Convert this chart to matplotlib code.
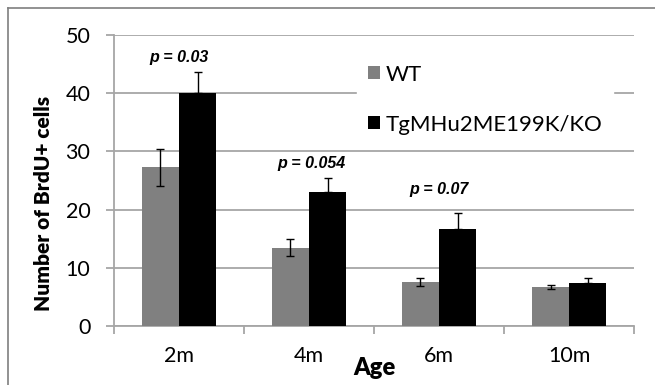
import matplotlib
matplotlib.use('Agg')
import matplotlib.pyplot as plt
from matplotlib.lines import Line2D
import numpy as np

# data
ages = ['2m', '4m', '6m', '10m']
wt_mean = [27.3, 13.5, 7.6, 6.7]
wt_err = [3.2, 1.5, 0.7, 0.4]
tg_mean = [40.0, 23.1, 16.6, 7.4]
tg_err = [3.6, 2.4, 2.9, 0.8]
p_labels = ['p = 0.03', 'p = 0.054', 'p = 0.07']
p_pos = [(0, 46.2), (1.02, 28.0), (2.0, 23.4)]

plt.rcParams['font.family'] = 'Lato'
axis_gray = '#a6a6a6'

fig = plt.figure(figsize=(6.55, 3.85), dpi=100)
ax = fig.add_axes([0.174, 0.153, 0.794, 0.756])

x = np.arange(len(ages))
w = 0.285
ax.bar(x - w / 2, wt_mean, w, color='#808080', label='WT', zorder=3)
ax.bar(x + w / 2, tg_mean, w, color='black', label='TgMHu2ME199K/KO', zorder=3)
ax.errorbar(x - w / 2, wt_mean, yerr=wt_err, fmt='none', ecolor='black',
            elinewidth=1, capsize=3, capthick=1, zorder=4)
ax.errorbar(x + w / 2, tg_mean, yerr=[[0] * 4, tg_err], fmt='none', ecolor='black',
            elinewidth=1, capsize=3, capthick=1, zorder=4)

for txt, (px, py) in zip(p_labels, p_pos):
    ax.text(px, py, txt, ha='center', va='center', fontsize=11.5,
            fontweight='bold', fontstyle='italic', family='Liberation Sans', zorder=5)

ax.set_xlim(-0.5, 3.5)
ax.set_ylim(0, 50)
ax.set_yticks(range(0, 51, 10))
ax.yaxis.grid(True, color=axis_gray, linewidth=1.3, zorder=0)
ax.set_xticks(x)
ax.set_xticklabels(ages, fontsize=15.5)
ax.set_xticks(np.arange(-0.5, 4, 1), minor=True)
ax.tick_params(axis='x', which='major', length=0, pad=14)
ax.tick_params(axis='x', which='minor', length=6, color=axis_gray, width=1.3)
ax.tick_params(axis='y', length=6, color=axis_gray, width=1.3, labelsize=15.5, pad=11)

for s in ['top', 'right']:
    ax.spines[s].set_visible(False)
for s in ['left', 'bottom']:
    ax.spines[s].set_color(axis_gray)
    ax.spines[s].set_linewidth(1.3)

ax.set_ylabel('Number of BrdU+ cells', fontsize=15, fontweight='heavy')
ax.yaxis.set_label_coords(-0.117, 0.42)
ax.set_xlabel('Age', fontsize=17, fontweight='heavy')
ax.xaxis.set_label_coords(0.5, -0.105)

leg = ax.legend(loc='upper left', bbox_to_anchor=(0.445, 0.975), fontsize=16,
                frameon=True, facecolor='white', edgecolor='white', framealpha=1,
                handlelength=0.55, handleheight=0.55, handletextpad=0.25,
                labelspacing=1.35, borderpad=0.5)
leg.set_zorder(6)

# outer frame of the figure panel
fig.add_artist(Line2D([8 / 655, 1], [1 - 8 / 385] * 2, color='#7f7f7f', lw=1.2))
fig.add_artist(Line2D([8 / 655] * 2, [0, 1 - 8 / 385], color='#7f7f7f', lw=1.2))

fig.savefig('out.png', dpi=100)
